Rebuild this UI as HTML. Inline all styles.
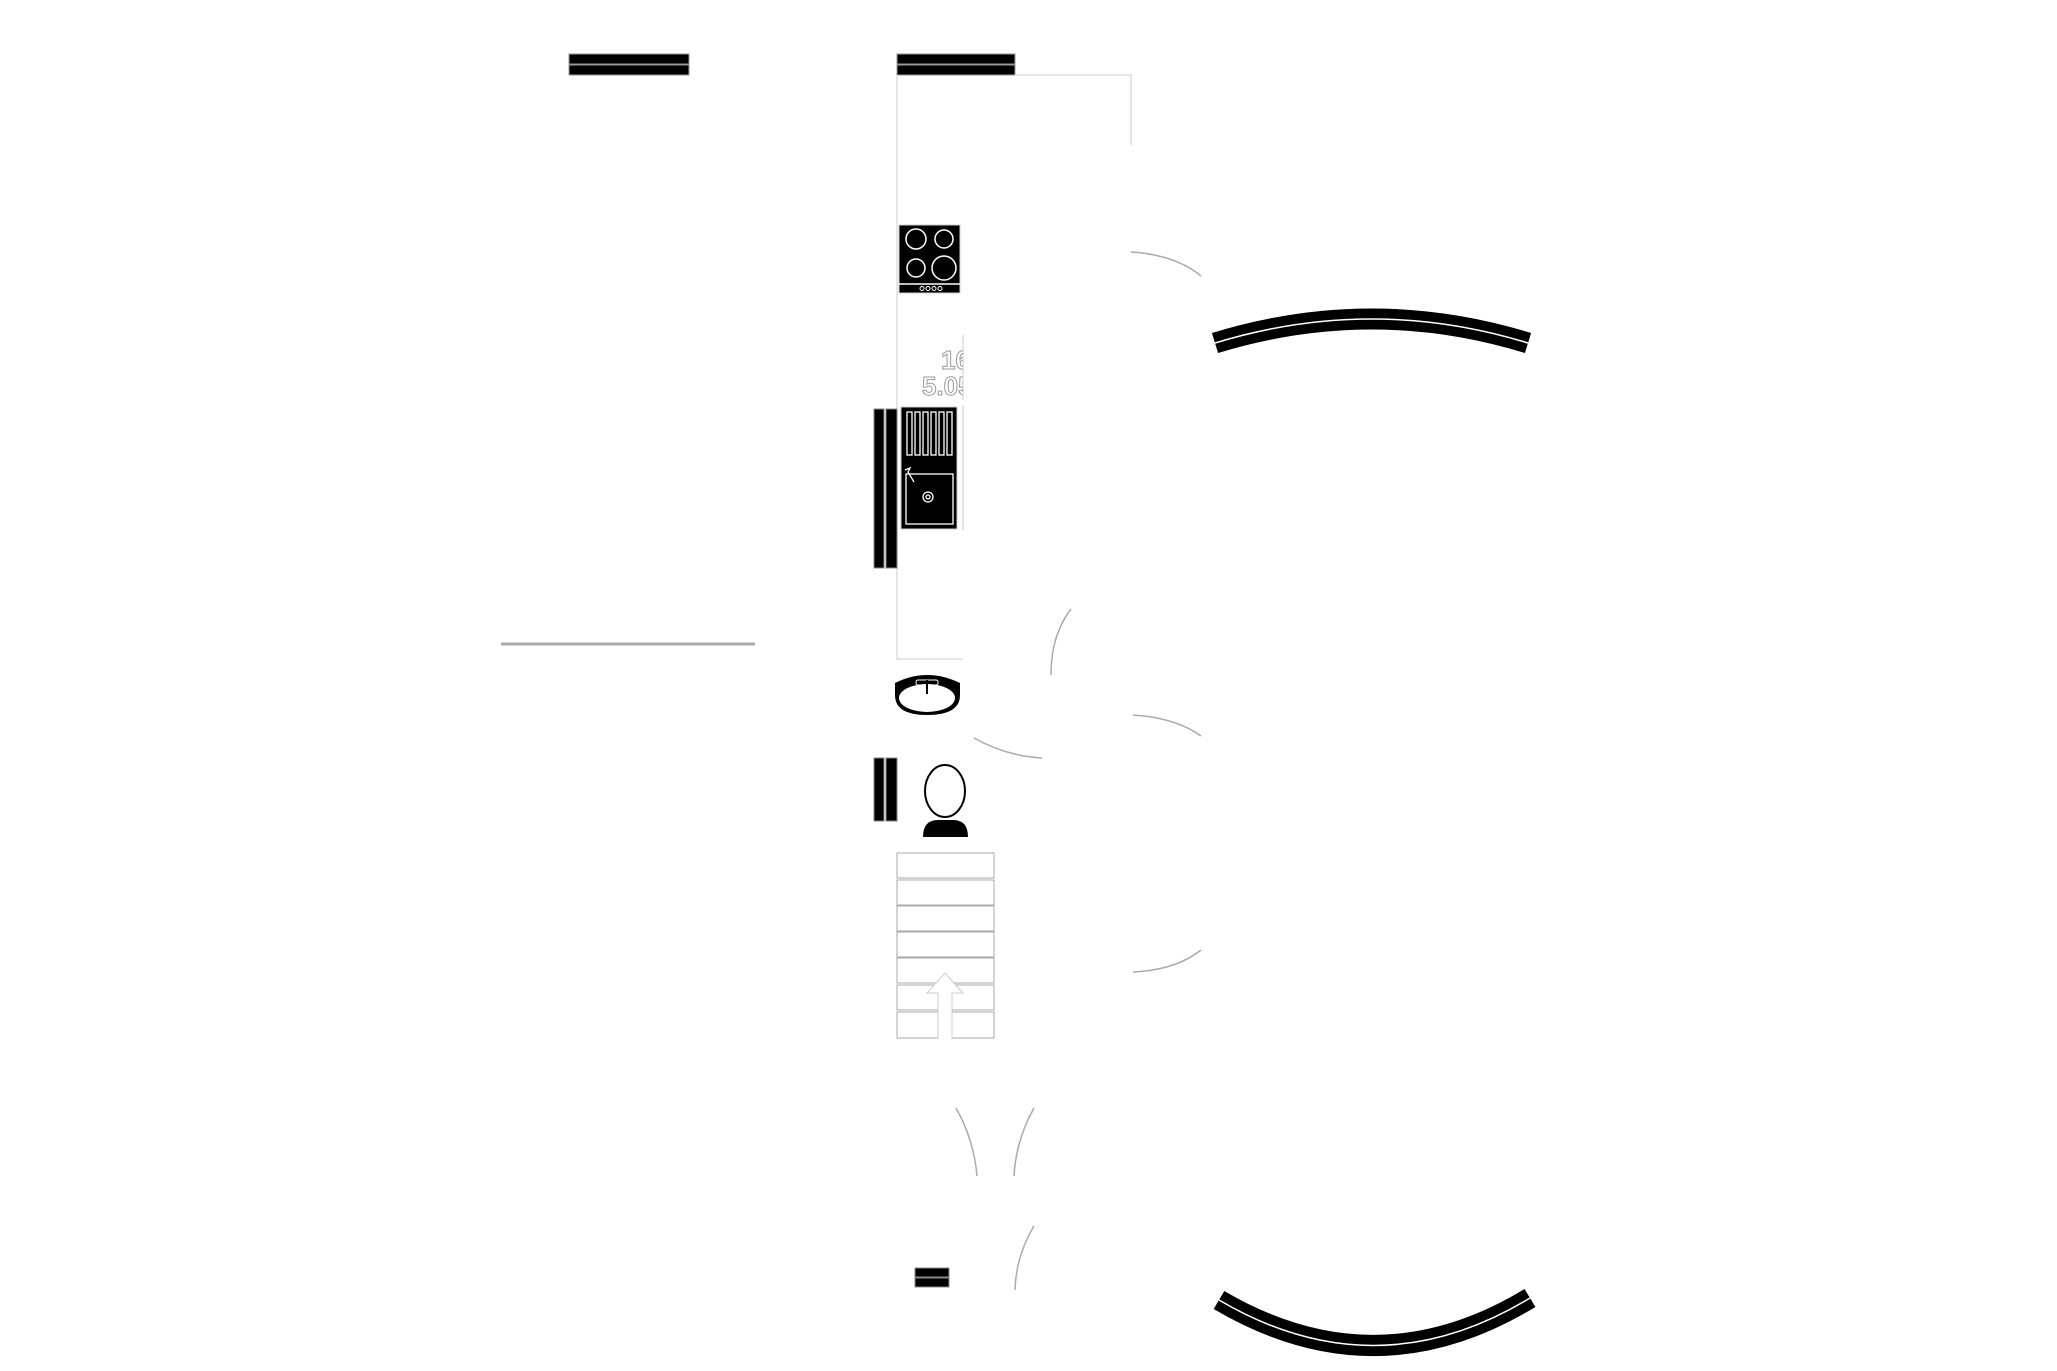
<!DOCTYPE html>
<html><head><meta charset="utf-8"><style>
html,body{margin:0;padding:0;background:#fff;}
svg{display:block}
text{font-family:"Liberation Sans",sans-serif;font-weight:bold}
</style></head><body>
<svg width="2057" height="1371" viewBox="0 0 2057 1371" xmlns="http://www.w3.org/2000/svg">
<rect width="2057" height="1371" fill="#fff"/>
<g stroke="#999" stroke-width="1">
<rect x="569" y="54" width="120" height="10" fill="#000"/>
<rect x="569" y="65" width="120" height="10" fill="#000"/>
</g>
<g transform="translate(-4,0)">
<g stroke="#999" stroke-width="1">
<rect x="901" y="54" width="118" height="10" fill="#000"/>
<rect x="901" y="65" width="118" height="10" fill="#000"/>
</g>
<g fill="none" stroke="#ddd" stroke-width="1.5">
<path d="M901 75 V659 H967"/>
<path d="M1019 75 H1135 V145"/>
<path d="M967 335 V400"/>
<path d="M967 405 V530"/>
</g>
<rect x="903" y="225" width="61" height="68" fill="#000" stroke="#ccc"/>
<g fill="none" stroke="#fff" stroke-width="1.5">
<circle cx="920" cy="239" r="10"/>
<circle cx="948" cy="239" r="9"/>
<circle cx="920" cy="268" r="9"/>
<circle cx="948" cy="268" r="12"/>
<line x1="903" y1="284" x2="964" y2="284"/>
<circle cx="926" cy="288.5" r="2" stroke-width="1"/>
<circle cx="932" cy="288.5" r="2" stroke-width="1"/>
<circle cx="938" cy="288.5" r="2" stroke-width="1"/>
<circle cx="944" cy="288.5" r="2" stroke-width="1"/>
</g>
<svg x="850" y="340" width="117" height="70" overflow="hidden">
<text x="95" y="29" font-size="26" fill="#fff" stroke="#999" stroke-width="1">16 m²</text>
<text x="76" y="55" font-size="26" fill="#fff" stroke="#999" stroke-width="1">5.05 m</text>
</svg>
<rect x="905" y="407" width="56" height="122" fill="#000" stroke="#ccc"/>
<g fill="none" stroke="#fff" stroke-width="1.3">
<rect x="911" y="412" width="5" height="43"/>
<rect x="919" y="412" width="5" height="43"/>
<rect x="927" y="412" width="5" height="43"/>
<rect x="935" y="412" width="5" height="43"/>
<rect x="943" y="412" width="5" height="43"/>
<rect x="951" y="412" width="5" height="43"/>
<rect x="910" y="474" width="47" height="50"/>
<circle cx="932" cy="497" r="5"/>
<circle cx="932" cy="497" r="2"/>
<path d="M909 470 L914 468 L912 472 L918 482"/>
</g>
<g fill="#000" stroke="#888" stroke-width="1">
<rect x="878" y="409" width="10" height="159"/>
<rect x="890" y="409" width="11" height="159"/>
<rect x="878" y="758" width="10" height="63"/>
<rect x="890" y="758" width="11" height="63"/>
<rect x="919" y="1268" width="34" height="9"/>
<rect x="919" y="1278" width="34" height="9"/>
</g>
<path d="M899 683 Q931 667 964 683 L964 695 Q964 715 931 715 Q899 715 899 695 Z" fill="#000"/>
<ellipse cx="931" cy="698" rx="28" ry="14" fill="#fff"/>
<rect x="920" y="680" width="22" height="5" rx="2" fill="none" stroke="#fff"/>
<line x1="931" y1="680" x2="931" y2="694" stroke="#000" stroke-width="2"/>
<ellipse cx="949" cy="791" rx="20" ry="26" fill="#fff" stroke="#000" stroke-width="2"/>
<path d="M927 837 Q927 820 942 820 L957 820 Q972 820 972 837 Z" fill="#000"/>
<g fill="#fff" stroke="#aaa" stroke-width="1">
<rect x="901" y="853" width="97" height="25"/>
<rect x="901" y="880" width="97" height="25"/>
<rect x="901" y="906" width="97" height="25"/>
<rect x="901" y="932" width="97" height="25"/>
<rect x="901" y="958" width="97" height="25"/>
<rect x="901" y="985" width="41" height="25"/>
<rect x="956" y="985" width="42" height="25"/>
<rect x="901" y="1012" width="41" height="26"/>
<rect x="956" y="1012" width="42" height="26"/>
</g>
<path d="M942 1039 V993 H931 L949 973 L967 993 H956 V1039" fill="#fff" stroke="#ccc" stroke-width="1"/>
<g fill="none" stroke="#aaa" stroke-width="1.5">
<path d="M1135 252 Q1180 255 1205 276"/>
<path d="M1055 675 Q1055 635 1075 609"/>
<path d="M978 738 Q1010 756 1046 758"/>
<path d="M1137 715 Q1180 718 1205 736"/>
<path d="M1137 972 Q1180 970 1205 950"/>
<path d="M960 1108 Q978 1140 981 1176"/>
<path d="M1038 1108 Q1020 1140 1018 1176"/>
<path d="M1038 1226 Q1020 1256 1019 1290"/>
</g>
</g>
<line x1="501" y1="644" x2="755" y2="644" stroke="#aaa" stroke-width="3"/>
<path d="M1215 343 Q1372 295 1528 343" fill="none" stroke="#000" stroke-width="21"/>
<path d="M1215 343 Q1372 295 1528 343" fill="none" stroke="#fff" stroke-width="1.5"/>
<path d="M1219 1300 Q1375 1392 1530 1298" fill="none" stroke="#000" stroke-width="21"/>
<path d="M1219 1300 Q1375 1392 1530 1298" fill="none" stroke="#fff" stroke-width="1.5"/>
</svg>
</body></html>
